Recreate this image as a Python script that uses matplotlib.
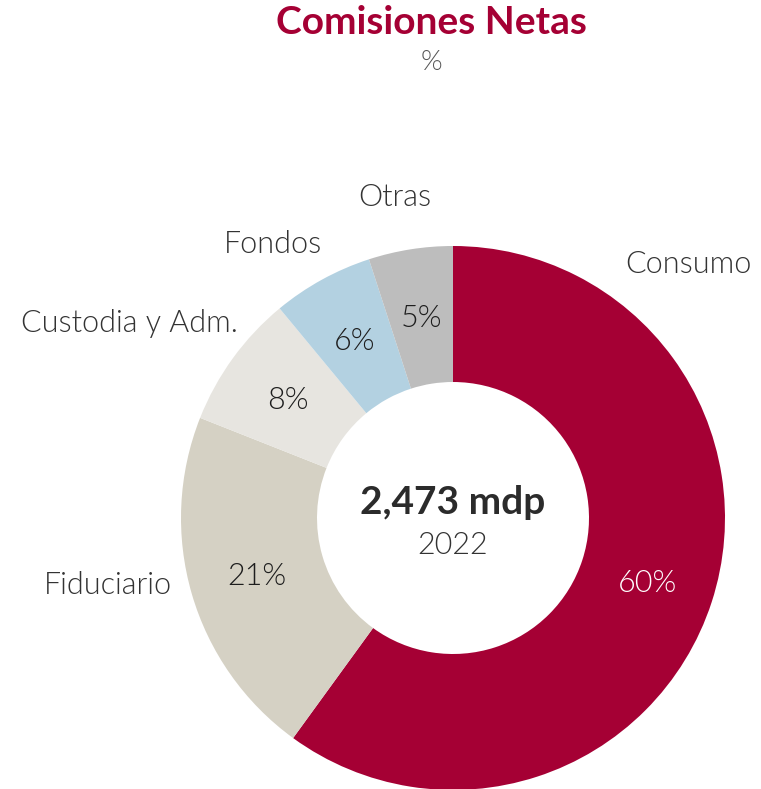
import matplotlib.pyplot as plt
import numpy as np

# data
labels = ["Consumo", "Fiduciario", "Custodia y Adm.", "Fondos", "Otras"]
values = [60, 21, 8, 6, 5]
colors = ["#A50034", "#D5D1C4", "#E7E5E0", "#B3D1E1", "#BDBDBD"]
pct_colors = ["white", "#1e1e1e", "#1e1e1e", "#1e1e1e", "#1e1e1e"]
total_mdp = "2,473 mdp"
year = "2022"

# outer label spots (pixels, top-left origin) and alignment
label_pos = [(752, 264, "right"), (172, 586, "right"), (238, 323, "right"),
             (322, 244, "right"), (395, 197, "center")]

W, H = 761, 789
fig = plt.figure(figsize=(W / 100, H / 100), dpi=100)
ax = fig.add_axes([0, 0, 1, 1])

cx, cy, r = 453, H - 518, 272
wedges, _ = ax.pie(values, colors=colors, startangle=90, counterclock=False,
                   radius=r, center=(cx, cy), frame=True,
                   wedgeprops=dict(width=r * 0.5, linewidth=0))
ax.set_xlim(0, W)
ax.set_ylim(0, H)
ax.axis("off")

for w, v, c in zip(wedges, values, pct_colors):
    ang = np.deg2rad((w.theta1 + w.theta2) / 2)
    ax.text(cx + 0.75 * r * np.cos(ang), cy + 0.75 * r * np.sin(ang) - 2, f"{v}%",
            ha="center", va="center", fontsize=22, color=c, family="Lato",
            fontweight=300)

for lab, (x, y, ha) in zip(labels, label_pos):
    ax.text(x, H - y, lab, ha=ha, va="center", fontsize=22, color="#333333",
            family="Lato", fontweight=300)

ax.text(cx, H - 503, total_mdp, ha="center", va="center", fontsize=28,
        fontweight="bold", color="#2b2b2b", family="Lato")
ax.text(cx, H - 545, year, ha="center", va="center", fontsize=22,
        color="#333333", family="Lato", fontweight=300)

fig.text(431 / W, 1 - 22 / H, "Comisiones Netas", ha="center", va="center",
         fontsize=28, fontweight="bold", color="#A50034", family="Lato")
fig.text(431 / W, 1 - 62 / H, "%", ha="center", va="center",
         fontsize=20, color="#555555", family="Lato", fontweight=300)

fig.savefig("out.png", dpi=100)
